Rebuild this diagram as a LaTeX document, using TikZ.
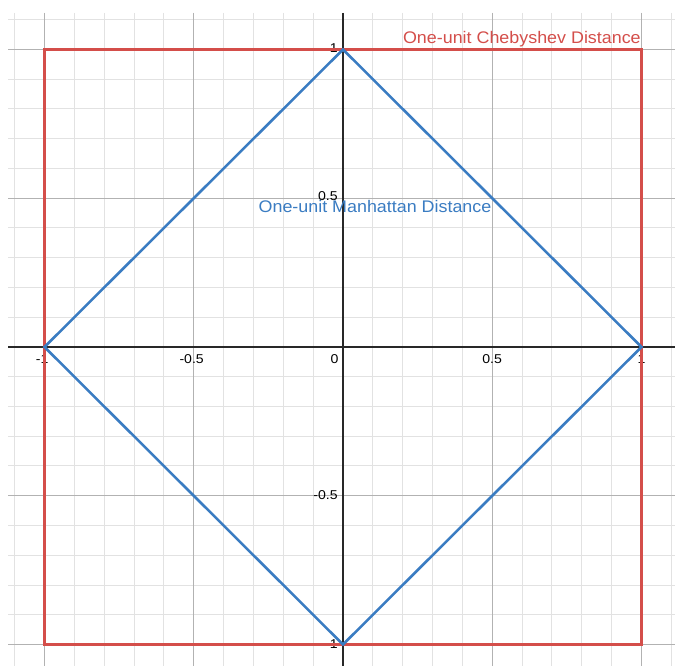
\documentclass[tikz,border=0pt]{standalone}
\usepackage{fontspec}
\usepackage{graphicx}
\setmainfont{Liberation Sans}
\definecolor{minorgrid}{RGB}{226,226,226}
\definecolor{majorgrid}{RGB}{178,178,178}
\definecolor{axiscol}{RGB}{40,40,40}
\definecolor{chebred}{RGB}{212,78,74}
\definecolor{manblue}{RGB}{58,124,194}
\tikzset{
  minorline/.style={draw=minorgrid, line width=0.75pt},
  majorline/.style={draw=majorgrid, line width=1.1pt},
  axisline/.style={draw=axiscol, line width=1.1pt},
  curve/.style={line width=1.9pt, line join=miter},
  ticklbl/.style={inner sep=0pt, text=black, font=\fontsize{9.6}{11}\selectfont},
  bigtxt/.style={inner sep=0pt, font=\fontsize{12.6}{14}\selectfont}
}
\newcommand{\tk}[1]{\scalebox{1.1}[1]{#1}}
\begin{document}
\begin{tikzpicture}[x=0.75pt,y=-0.75pt]
\useasboundingbox (0,0) rectangle (675,666);
\fill[white] (0,0) rectangle (675,666);
\begin{scope}
\clip (0,0) rectangle (675,666);
% minor grid
\foreach \i in {-11,...,11}{
  \draw[minorline] ({343+29.85*\i},13) -- ({343+29.85*\i},666);
}
\foreach \j in {-10,...,11}{
  \draw[minorline] (8,{347-29.75*\j}) -- (675,{347-29.75*\j});
}
% major grid
\foreach \i in {-10,-5,5,10}{
  \draw[majorline] ({343+29.85*\i},13) -- ({343+29.85*\i},666);
}
\foreach \j in {-10,-5,5,10}{
  \draw[majorline] (8,{347-29.75*\j}) -- (675,{347-29.75*\j});
}
% axes
\coordinate (yTop) at (343,13);
\coordinate (yBot) at (343,666);
\coordinate (xLeft) at (8,347);
\coordinate (xRight) at (675,347);
\draw[axisline] (yTop) -- (yBot);
\draw[axisline] (xLeft) -- (xRight);
\end{scope}
% tick labels
\node[ticklbl] (tx1) at (44.5,359) {\tk{\llap{-}1}};
\node[ticklbl] (tx2) at (194,359) {\tk{\llap{-}0.5}};
\node[ticklbl] (tx0) at (334.5,359) {\tk{0}};
\node[ticklbl] (tx3) at (492.2,359) {\tk{0.5}};
\node[ticklbl] (tx4) at (641.5,359) {\tk{1}};
\node[ticklbl, anchor=east] (ty1) at (338,48.5) {\tk{1}};
\node[ticklbl, anchor=east] (ty2) at (338,196) {\tk{0.5}};
\node[ticklbl, anchor=east] (ty3) at (338,495) {\tk{-0.5}};
\node[ticklbl, anchor=east] (ty4) at (338,644) {\tk{-1}};
% shapes
\coordinate (cNW) at (44.5,49.5);
\coordinate (cNE) at (641.5,49.5);
\coordinate (cSE) at (641.5,644.5);
\coordinate (cSW) at (44.5,644.5);
\coordinate (dN) at (343,49.5);
\coordinate (dE) at (641.5,347);
\coordinate (dS) at (343,644.5);
\coordinate (dW) at (44.5,347);
\draw[curve, chebred] (cNW) -- (cNE) -- (cSE) -- (cSW) -- cycle;
\draw[curve, manblue] (dN) -- (dE) -- (dS) -- (dW) -- cycle;
% labels
\node[bigtxt, text=chebred, anchor=base east] (cheb) at (641,43.5) {\scalebox{1.065}[1]{One-unit Chebyshev Distance}};
\node[bigtxt, text=manblue, anchor=base] (man) at (375,213) {\scalebox{1.065}[1]{One-unit Manhattan Distance}};
\end{tikzpicture}
\end{document}
